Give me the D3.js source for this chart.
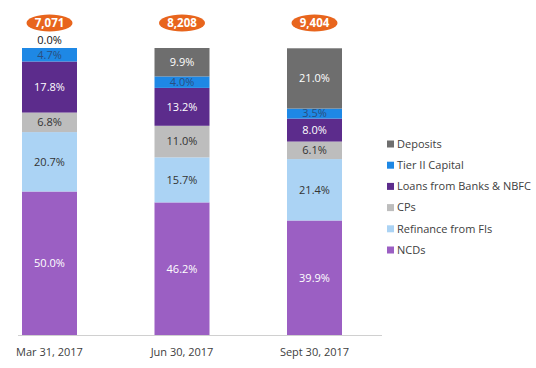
<!DOCTYPE html>
<html><head><meta charset="utf-8">
<script src="https://cdn.jsdelivr.net/npm/d3@7"></script>
<style>body{margin:0;background:#fff}svg{display:block}text{font-family:"Open Sans",sans-serif}</style>
</head><body>
<svg id="c" width="536" height="368"></svg>
<script>
const categories = ["Mar 31, 2017", "Jun 30, 2017", "Sept 30, 2017"];
const totals = ["7,071", "8,208", "9,404"];
const seriesNames = ["NCDs", "Refinance from FIs", "CPs", "Loans from Banks & NBFC", "Tier II Capital", "Deposits"];
const NCDs = [50.0, 46.2, 39.9];
const refinance = [20.7, 15.7, 21.4];
const CPs = [6.8, 11.0, 6.1];
const loans = [17.8, 13.2, 8.0];
const tierII = [4.7, 4.0, 3.5];
const deposits = [0.0, 9.9, 21.0];
const colors = ["#9b5fc3", "#abd3f4", "#bdbdbd", "#5c2c8c", "#1e88e5", "#6e6e6e"];
const labelColors = ["#ffffff", "#333333", "#333333", "#ffffff", "#2a4f80", "#ffffff"];

const seriesVals = [NCDs, refinance, CPs, loans, tierII, deposits];
const data = categories.map((c, i) => {
  const o = {cat: c};
  seriesNames.forEach((s, j) => o[s] = seriesVals[j][i]);
  return o;
});
const stack = d3.stack().keys(seriesNames)(data);

const svg = d3.select("#c");
const x = d3.scalePoint().domain(categories).range([49.5, 314.5]);
const bw = 55;
const y = d3.scaleLinear().domain([0, 100]).range([335, 48]);

// axis line
svg.append("line").attr("x1", 18).attr("x2", 382).attr("y1", 335.5).attr("y2", 335.5)
  .attr("stroke", "#d0d0d0").attr("stroke-width", 1);

const g = svg.append("g");
stack.forEach((layer, j) => {
  layer.forEach((d) => {
    const cx = x(d.data.cat);
    const h = y(d[0]) - y(d[1]);
    if (h > 0) {
      g.append("rect").attr("x", cx - bw / 2).attr("width", bw)
        .attr("y", y(d[1])).attr("height", h).attr("fill", colors[j]);
    }
    const v = d[1] - d[0];
    const ty = v > 0 ? (y(d[0]) + y(d[1])) / 2 : y(d[1]) - 8;
    g.append("text").attr("x", cx).attr("y", ty).attr("dy", "0.35em")
      .attr("text-anchor", "middle").attr("font-size", 11)
      .attr("fill", v > 0 ? labelColors[j] : "#111")
      .text(v.toFixed(1) + "%");
  });
});

// total ellipses
categories.forEach((c, i) => {
  const cx = x(c);
  svg.append("ellipse").attr("cx", cx).attr("cy", 23).attr("rx", 23).attr("ry", 8.5).attr("fill", "#e8651d");
  svg.append("text").attr("x", cx).attr("y", 23).attr("dy", "0.35em").attr("text-anchor", "middle")
    .attr("font-size", 11.5).attr("font-weight", "bold").attr("fill", "#fff").text(totals[i]);
});

// x labels
categories.forEach((c) => {
  svg.append("text").attr("x", x(c)).attr("y", 352).attr("dy", "0.35em").attr("text-anchor", "middle")
    .attr("font-size", 11).attr("fill", "#404040").text(c);
});

// legend (reverse order)
const legendOrder = seriesNames.map((s, j) => j).reverse();
legendOrder.forEach((j, k) => {
  const ly = 144 + k * 21.2;
  svg.append("rect").attr("x", 387).attr("y", ly - 3.5).attr("width", 7).attr("height", 7).attr("fill", colors[j]);
  svg.append("text").attr("x", 397).attr("y", ly).attr("dy", "0.35em").attr("font-size", 11)
    .attr("fill", "#404040").text(seriesNames[j]);
});
</script>
</body></html>
